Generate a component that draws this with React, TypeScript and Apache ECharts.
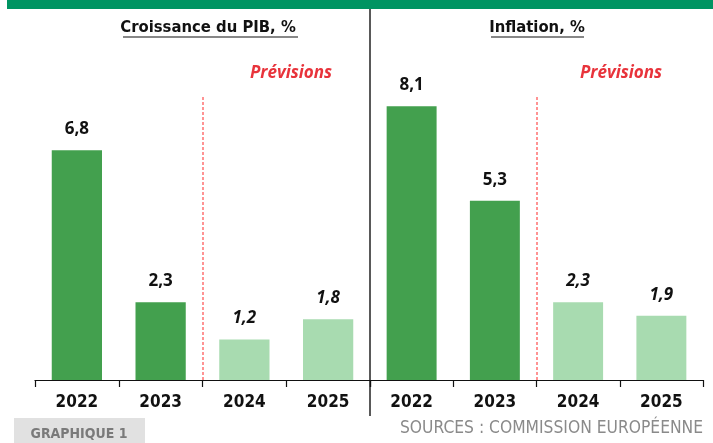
import React, { useEffect, useRef } from "react";
import * as echarts from "echarts";

const years = ["2022", "2023", "2024", "2025"];
const gdpValues = [6.8, 2.3, 1.2, 1.8];
const inflationValues = [8.1, 5.3, 2.3, 1.9];
const isForecast = [false, false, true, true];
const panelTitles = ["Croissance du PIB, %", "Inflation, %"];
const forecastLabel = "Prévisions";
const figureLabel = "GRAPHIQUE 1";
const sourceLabel = "SOURCES : COMMISSION EUROPÉENNE";

const DARK = "#43A04E";
const LIGHT = "#A8DBB0";
const NARROW = "'Liberation Sans Narrow', 'DejaVu Sans Condensed', 'Roboto', sans-serif";
const LABELFONT = "'Open Sans', 'Noto Sans', sans-serif";

function buildData(values: number[]) {
  return values.map((v, i) => ({
    value: v,
    itemStyle: { color: isForecast[i] ? LIGHT : DARK },
    label: { fontStyle: isForecast[i] ? "italic" : "normal" },
  }));
}

export default function App() {
  const ref = useRef<HTMLDivElement>(null);
  useEffect(() => {
    if (!ref.current) return;
    const chart = echarts.init(ref.current, null, { renderer: "svg" });
    const grids = [
      { left: 35, top: 42, width: 335, height: 338 },
      { left: 370, top: 42, width: 333, height: 338 },
    ];
    const xAxisCommon = {
      type: "category" as const,
      data: years,
      axisLine: { show: true, lineStyle: { color: "#111", width: 1.2 } },
      axisTick: { show: true, length: 7, lineStyle: { color: "#111", width: 1.2 } },
      axisLabel: { color: "#111", fontSize: 17, fontWeight: "bold", fontFamily: NARROW, margin: 12 },
    };
    const yAxisCommon = { type: "value" as const, min: 0, max: 10, show: false, splitLine: { show: false } };
    const seriesCommon = {
      type: "bar" as const,
      barWidth: "60%",
      label: {
        show: true,
        position: "top" as const,
        distance: 14,
        color: "#111",
        fontSize: 17,
        fontWeight: "bold",
        fontFamily: LABELFONT,
        formatter: (p: any) => String(p.value).replace(".", ","),
      },
    };
    const titleStyle = { fontSize: 16.5, fill: "#111", fontFamily: NARROW, fontWeight: "bold" };
    chart.setOption({
      animation: false,
      grid: grids,
      xAxis: [
        { ...xAxisCommon, gridIndex: 0 },
        { ...xAxisCommon, gridIndex: 1 },
      ],
      yAxis: [
        { ...yAxisCommon, gridIndex: 0 },
        { ...yAxisCommon, gridIndex: 1 },
      ],
      series: [
        { ...seriesCommon, xAxisIndex: 0, yAxisIndex: 0, data: buildData(gdpValues) },
        { ...seriesCommon, xAxisIndex: 1, yAxisIndex: 1, data: buildData(inflationValues) },
      ],
      graphic: [
        { type: "rect", shape: { x: 7, y: 0, width: 706, height: 9 }, style: { fill: "#009462" } },
        { type: "line", shape: { x1: 370, y1: 9, x2: 370, y2: 416 }, style: { stroke: "#222", lineWidth: 1.5 } },
        { type: "text", x: 208, y: 26, style: { ...titleStyle, text: panelTitles[0], align: "center", verticalAlign: "middle" } },
        { type: "line", shape: { x1: 123, y1: 37, x2: 298, y2: 37 }, style: { stroke: "#111", lineWidth: 1.2 } },
        { type: "text", x: 537, y: 26, style: { ...titleStyle, text: panelTitles[1], align: "center", verticalAlign: "middle" } },
        { type: "line", shape: { x1: 491, y1: 37, x2: 584, y2: 37 }, style: { stroke: "#111", lineWidth: 1.2 } },
        { type: "line", shape: { x1: 203, y1: 97, x2: 203, y2: 380 }, style: { stroke: "#FF5A5A", lineWidth: 1.3, lineDash: [3, 2] } },
        { type: "line", shape: { x1: 537, y1: 97, x2: 537, y2: 380 }, style: { stroke: "#FF5A5A", lineWidth: 1.3, lineDash: [3, 2] } },
        { type: "text", x: 291, y: 71, style: { text: forecastLabel, align: "center", verticalAlign: "middle", fontSize: 17, fontStyle: "italic", fontWeight: "bold", fill: "#E8333B", fontFamily: LABELFONT } },
        { type: "text", x: 621, y: 71, style: { text: forecastLabel, align: "center", verticalAlign: "middle", fontSize: 17, fontStyle: "italic", fontWeight: "bold", fill: "#E8333B", fontFamily: LABELFONT } },
        { type: "rect", shape: { x: 14, y: 418, width: 131, height: 25 }, style: { fill: "#E1E1E1" } },
        { type: "text", x: 79, y: 433, style: { text: figureLabel, align: "center", verticalAlign: "middle", fontSize: 14, fontWeight: "bold", fill: "#7A7A7A", fontFamily: NARROW } },
        { type: "text", x: 400, y: 427, style: { text: sourceLabel, align: "left", verticalAlign: "middle", fontSize: 17.3, fill: "#8A8A8A", fontFamily: NARROW } },
      ],
    });
    return () => chart.dispose();
  }, []);
  return <div ref={ref} style={{ position: "fixed", left: 0, top: 0, width: 713, height: 443 }} />;
}
